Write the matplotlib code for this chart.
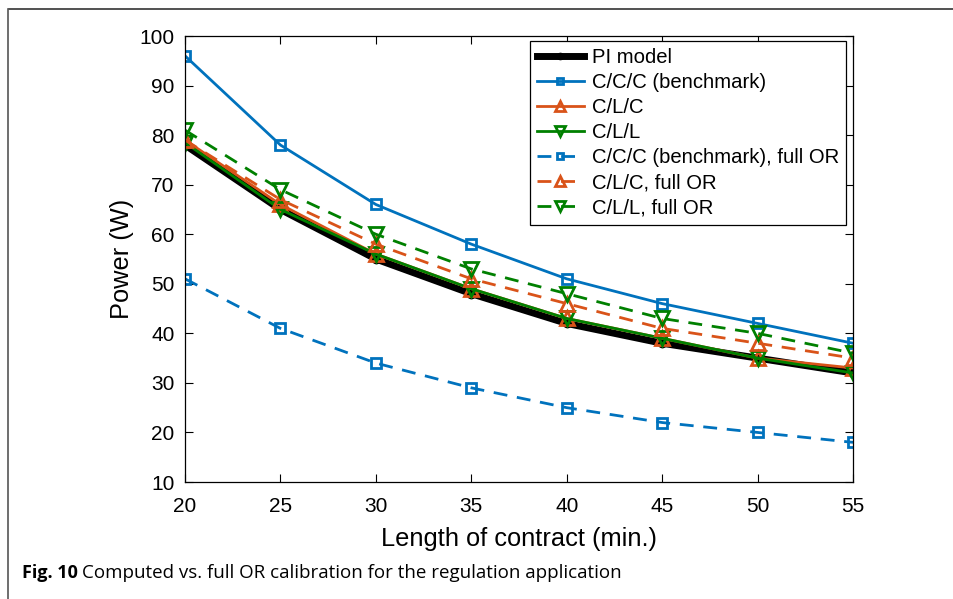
import matplotlib
matplotlib.use("Agg")
import matplotlib.pyplot as plt
from matplotlib import font_manager

x = [20, 25, 30, 35, 40, 45, 50, 55]
pi_model = [78, 65, 55, 48, 42, 38, 35, 32]
ccc = [96, 78, 66, 58, 51, 46, 42, 38]
clc = [79, 66, 56, 49, 43, 39, 35, 33]
cll = [78.5, 65, 56, 49, 43, 39, 35, 32]
ccc_or = [51, 41, 34, 29, 25, 22, 20, 18]
clc_or = [79, 67, 58, 51, 46, 41, 38, 35]
cll_or = [81, 69, 60, 53, 48, 43, 40, 36]

xticks = [20, 25, 30, 35, 40, 45, 50, 55]
yticks = [10, 20, 30, 40, 50, 60, 70, 80, 90, 100]

names = {f.name for f in font_manager.fontManager.ttflist}
main_font = 'Liberation Sans'
cap_font = 'Liberation Sans Narrow' if 'Liberation Sans Narrow' in names else 'Open Sans'

blue = '#0072BD'
orange = '#D95319'
green = '#008000'

fig = plt.figure(figsize=(9.54, 5.99), dpi=100)
ax = fig.add_axes([185/954, 1-482/599, (853-185)/954, (482-36)/599])

dash = (0, (5, 3.5))
ms_sq, ms_tri = 6.5, 10.5
ax.plot(x, pi_model, color='black', lw=5, marker='o', ms=6, label='PI model')
ax.plot(x, ccc, color=blue, lw=2, marker='s', ms=ms_sq, mfc='none', mew=2, label='C/C/C (benchmark)')
ax.plot(x, clc, color=orange, lw=2, marker='^', ms=ms_tri, mfc='none', mew=2, label='C/L/C')
ax.plot(x, cll, color=green, lw=2, marker='v', ms=ms_tri, mfc='none', mew=2, label='C/L/L')
ax.plot(x, ccc_or, color=blue, lw=2, ls=dash, marker='s', ms=ms_sq, mfc='none', mew=2,
        label='C/C/C (benchmark), full OR')
ax.plot(x, clc_or, color=orange, lw=2, ls=dash, marker='^', ms=ms_tri, mfc='none', mew=2,
        label='C/L/C, full OR')
ax.plot(x, cll_or, color=green, lw=2, ls=dash, marker='v', ms=ms_tri, mfc='none', mew=2,
        label='C/L/L, full OR')

ax.set_xlim(20, 55)
ax.set_ylim(10, 100)
ax.set_xticks(xticks)
ax.set_yticks(yticks)
ax.tick_params(direction='in', top=True, right=True, length=6, width=0.8, labelsize=15)
ax.tick_params(axis='x', pad=10.5)
ax.tick_params(axis='y', pad=7.5)
for lab in ax.get_xticklabels() + ax.get_yticklabels():
    lab.set_fontfamily(main_font)
for s in ax.spines.values():
    s.set_linewidth(0.9)
ax.set_xlabel('Length of contract (min.)', fontsize=18.3, family=main_font, labelpad=8)
ax.set_ylabel('Power (W)', fontsize=18.3, family=main_font, labelpad=4)

leg = ax.legend(loc='upper right', prop={'family': main_font, 'size': 14.6}, frameon=True,
                fancybox=False, edgecolor='black', framealpha=1, borderpad=0.35,
                labelspacing=0.3, handlelength=2.3, handletextpad=0.4, borderaxespad=0,
                bbox_to_anchor=((846-185)/668, (482-41)/446), markerscale=0.75)
leg.get_frame().set_linewidth(0.9)

# outer border
fig.add_artist(plt.Line2D([9/954, 1.0], [1-8.5/599, 1-8.5/599], color='#333333', lw=1.2,
                          transform=fig.transFigure))
fig.add_artist(plt.Line2D([8.5/954, 8.5/954], [1-9/599, 0], color='#555555', lw=1.2,
                          transform=fig.transFigure))

fig.text(22/954, 1-578/599, 'Fig. 10', fontsize=13, fontweight='bold', family=cap_font,
         va='baseline')
fig.text(82/954, 1-578/599, 'Computed vs. full OR calibration for the regulation application',
         fontsize=13.5, family=cap_font, va='baseline')

fig.savefig('out.png', dpi=100)
